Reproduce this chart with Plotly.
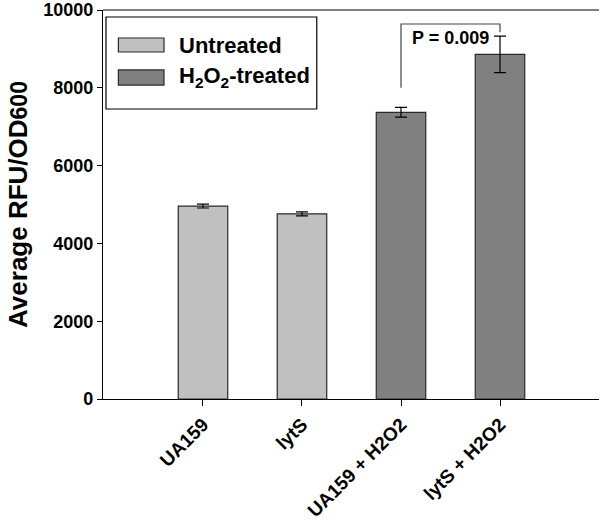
import plotly.graph_objects as go

categories = ["UA159", "lytS", "UA159 + H2O2", "lytS + H2O2"]
untreated_vals = [4960, 4760, None, None]
untreated_err = [50, 50, 0, 0]
treated_vals = [None, None, 7370, 8860]
treated_err = [0, 0, 125, 470]
y_ticks = [0, 2000, 4000, 6000, 8000, 10000]
y_tick_labels = ["0", "2000", "4000", "6000", "8000", "10000"]
series_names = ["Untreated", "H<sub>2</sub>O<sub>2</sub>-treated"]

# significance bracket (data units)
bracket_top = 9640
bracket_left_bottom = 8000
bracket_right_bottom = 9430
p_label = "P = 0.009"

FONT = "Liberation Sans, Arial, sans-serif"
light = "#C0C0C0"
dark = "#808080"
edge = "#2a2a2a"

fig = go.Figure()
fig.add_trace(go.Bar(
    x=categories, y=untreated_vals, name=series_names[0], showlegend=False,
    marker=dict(color=light, line=dict(color=edge, width=1.2)),
    width=0.5,
    error_y=dict(type="data", array=untreated_err, color="black", thickness=1.2, width=6),
))
fig.add_trace(go.Bar(
    x=categories, y=treated_vals, name=series_names[1], showlegend=False,
    marker=dict(color=dark, line=dict(color=edge, width=1.2)),
    width=0.5,
    error_y=dict(type="data", array=treated_err, color="black", thickness=1.2, width=6),
))

# bracket
fig.add_trace(go.Scatter(
    x=[categories[2], categories[2], categories[3], categories[3]],
    y=[bracket_left_bottom, bracket_top, bracket_top, bracket_right_bottom],
    mode="lines", line=dict(color="#444444", width=1.2),
    showlegend=False, hoverinfo="skip",
))
fig.add_annotation(
    x=2.5, y=bracket_top, xref="x", yref="y", text="<b>" + p_label + "</b>",
    showarrow=False, yanchor="middle", yshift=-14, xshift=0,
    font=dict(family=FONT, size=18, color="black"),
)

# manual legend (paper coordinates)
fig.add_shape(type="rect", xref="paper", yref="paper", x0=0.006, x1=0.431, y0=0.7455, y1=0.982,
              line=dict(color="black", width=1.2), fillcolor="white")
legend_rows = [(0.892, 0.928, light), (0.807, 0.846, dark)]
for (y0, y1, col), name in zip(legend_rows, series_names):
    fig.add_shape(type="rect", xref="paper", yref="paper", x0=0.031, x1=0.123, y0=y0, y1=y1,
                  line=dict(color=edge, width=1.2), fillcolor=col)
    fig.add_annotation(x=0.149, y=(y0 + y1) / 2, xref="paper", yref="paper",
                       text="<b>" + name + "</b>", showarrow=False,
                       xanchor="left", yanchor="middle",
                       font=dict(family=FONT, size=22, color="black"))

fig.update_layout(
    width=600, height=531,
    margin=dict(l=103, r=1, t=10, b=132),
    plot_bgcolor="white", paper_bgcolor="white",
    barmode="overlay",
    font=dict(family=FONT, color="black"),
    showlegend=False,
    xaxis=dict(
        range=[-1.01, 4.0], tickangle=-45,
        showline=True, linecolor="black", linewidth=1.2,
        ticks="outside", ticklen=6, tickcolor="black",
        tickfont=dict(family=FONT, size=19, color="black", weight="bold"),
        showgrid=False, zeroline=False,
    ),
    yaxis=dict(
        range=[0, 10000], tickvals=y_ticks, ticktext=y_tick_labels,
        showline=True, linecolor="black", linewidth=1.2, mirror=False,
        ticks="outside", ticklen=5, tickcolor="black",
        tickfont=dict(family=FONT, size=18, color="black", weight="bold"),
        showgrid=False, zeroline=False,
        title=dict(text="<b>Average RFU/OD<span style='font-size:23px'>600</span></b>",
                   font=dict(family=FONT, size=26, color="black"), standoff=8),
    ),
)
# top frame line
fig.add_shape(type="line", xref="paper", yref="paper", x0=0, x1=1, y0=1, y1=1,
              line=dict(color="black", width=1.2))

fig.write_html("out.html", config={"displayModeBar": False},
               post_script="document.body.style.margin='0px';")
